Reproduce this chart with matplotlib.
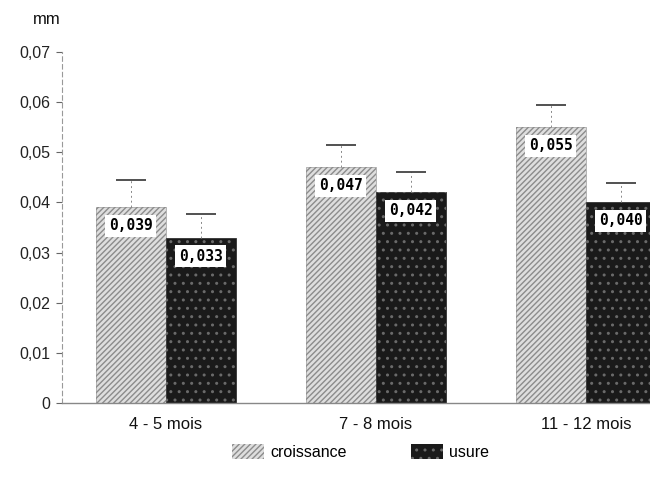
import matplotlib.pyplot as plt
import matplotlib.patches as mpatches
import numpy as np

plt.rcParams['font.family'] = ['Liberation Sans', 'DejaVu Sans']

categories = ['4 - 5 mois', '7 - 8 mois', '11 - 12 mois']
croissance = [0.039, 0.047, 0.055]
usure = [0.033, 0.042, 0.040]
croissance_err = [0.0055, 0.0045, 0.0045]
usure_err = [0.0047, 0.0041, 0.0039]
yticks = [0, 0.01, 0.02, 0.03, 0.04, 0.05, 0.06, 0.07]
ytick_labels = ['0', '0,01', '0,02', '0,03', '0,04', '0,05', '0,06', '0,07']

fig = plt.figure(figsize=(6.5, 4.87), dpi=100)
ax = fig.add_axes([0.095, 0.1725, 0.905, 0.7207])

x = np.arange(len(categories))
w = 0.333
xc = x - w / 2
xu = x + w / 2

c_style = dict(facecolor='#dedede', edgecolor='#8c8c8c', hatch='//////')
u_style = dict(facecolor='#1a1a1a', edgecolor='#6a6a6a', hatch='..')

# base fills + hatch overlays
ax.bar(xc, croissance, w, color=c_style['facecolor'], edgecolor='#aaaaaa', linewidth=0.6)
ax.bar(xc, croissance, w, color='none', edgecolor=c_style['edgecolor'], hatch=c_style['hatch'], linewidth=0)
ax.bar(xu, usure, w, color=u_style['facecolor'], edgecolor='#333333', linewidth=0.6)
ax.bar(xu, usure, w, color='none', edgecolor=u_style['edgecolor'], hatch=u_style['hatch'], linewidth=0)

# error bars: upper only, faint dotted stem + cap
cap = 0.072
for xs, vals, errs in [(xc, croissance, croissance_err), (xu, usure, usure_err)]:
    tops = np.array(vals) + np.array(errs)
    ax.vlines(xs, vals, tops, colors='#888888', linestyles=(0, (2, 3)), linewidth=0.7)
    ax.hlines(tops, xs - cap, xs + cap, colors='#333333', linewidth=1.2)

# value labels
for xs, vals in [(xc, croissance), (xu, usure)]:
    for xi, v in zip(xs, vals):
        ax.text(xi, v - 0.0037, f'{v:.3f}'.replace('.', ','), ha='center', va='center',
                family='DejaVu Sans Mono', fontweight='bold', fontsize=10.5,
                bbox=dict(boxstyle='square,pad=0.25', fc='white', ec='none'))

ax.set_ylim(0, 0.07)
ax.set_xlim(-0.495, 2.305)
ax.set_yticks(yticks)
ax.set_yticklabels(ytick_labels, fontsize=11.5, color='#222222')
ax.set_xticks(x)
ax.set_xticklabels(categories, fontsize=12, color='#111111')
ax.tick_params(axis='x', length=0, pad=10)
ax.tick_params(axis='y', length=4, color='#666666', pad=4)

for s in ['top', 'right']:
    ax.spines[s].set_visible(False)
ax.spines['left'].set_linestyle((0, (4, 3)))
ax.spines['left'].set_color('#999999')
ax.spines['left'].set_linewidth(0.8)
ax.spines['bottom'].set_color('#888888')
ax.spines['bottom'].set_linewidth(1.0)

fig.text(0.05, 0.959, 'mm', fontsize=12, color='#111111', va='center')

handles = [mpatches.Patch(**c_style, linewidth=0, label='croissance'),
           mpatches.Patch(**u_style, linewidth=0, label='usure')]
fig.legend(handles=handles, loc='center', bbox_to_anchor=(0.555, 0.072), ncol=2,
           frameon=False, fontsize=11.5, handlelength=2.0, handleheight=1.1,
           handletextpad=0.4, columnspacing=4.0)

fig.savefig('out.png', dpi=100)
